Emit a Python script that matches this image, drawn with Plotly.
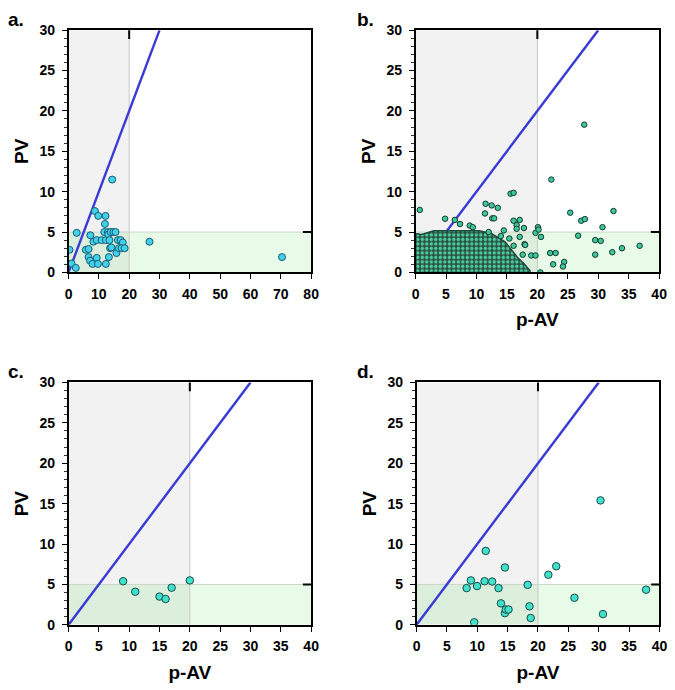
import plotly.graph_objects as go

# ---------------- data ----------------
a_pav = [0.3, 1.0, 2.4, 2.7, 5.7, 6.6, 6.6, 7.2, 7.1, 7.9, 8.2, 8.7, 9.3, 9.3, 9.8, 9.7,
         10.9, 12.2, 12.0, 11.8, 12.3, 12.3, 13.0, 13.1, 13.5, 13.3, 13.7, 14.1, 14.4,
         13.9, 14.8, 15.5, 15.8, 16.3, 16.6, 17.2, 17.9, 17.5, 18.5, 26.7, 70.4]
a_pv = [2.8, 1.1, 0.56, 4.9, 2.8, 2.9, 1.9, 4.6, 1.45, 1.05, 3.8, 7.6, 4.0, 1.8, 7.0, 1.05,
        4.0, 7.0, 6.0, 5.0, 4.0, 1.05, 5.0, 4.7, 4.0, 1.9, 3.0, 3.1, 11.5,
        5.0, 5.0, 5.0, 2.4, 4.0, 3.0, 4.0, 3.7, 3.0, 3.0, 3.8, 1.9]

# panel b: outline of the dense cloud
b_cloud_pav = [0.0, 0.0, 1.0, 2.0, 3.0, 10.5, 12.5, 14.7, 15.8, 16.8, 17.9, 18.8, 18.8, 0.0]
b_cloud_pv = [0.0, 4.8, 4.7, 4.9, 5.15, 5.15, 4.8, 3.8, 2.8, 1.8, 1.0, 0.2, 0.0, 0.0]
# panel b: individual points outside the dense cloud
b_pav = [0.7, 4.85, 6.45, 7.3, 8.9, 9.4, 11.5, 12.5, 11.4, 12.6, 12.9, 13.5, 14.5, 15.6,
         16.1, 16.1, 17.1, 16.6, 16.6, 17.8, 15.4, 16.1, 17.1, 17.9, 18.0, 17.6, 19.0, 19.7,
         19.7, 20.1, 20.2, 20.6, 20.5, 22.3, 22.1, 23.0, 22.6, 24.4, 24.2, 25.4, 26.7,
         27.2, 27.8, 27.7, 29.5, 29.5, 30.4, 30.7, 32.5, 32.3, 33.9, 36.8, 14.0, 12.0]
b_pv = [7.74, 6.65, 6.5, 6.0, 5.8, 5.6, 8.5, 8.3, 7.3, 6.7, 6.7, 8.0, 5.2, 9.75,
        9.85, 6.4, 6.5, 5.85, 5.4, 5.5, 4.2, 3.3, 4.4, 3.5, 3.4, 2.2, 2.1, 2.1,
        4.9, 5.6, 5.3, 4.4, 0.0, 11.5, 2.4, 2.4, 1.0, 1.3, 0.73, 7.4, 4.55,
        6.4, 6.6, 18.3, 2.2, 4.0, 3.9, 5.6, 7.6, 2.5, 3.0, 3.3, 4.5, 5.0]

c_pav = [9.0, 11.0, 15.0, 16.0, 17.0, 20.0]
c_pv = [5.4, 4.1, 3.5, 3.2, 4.6, 5.5]

d_pav = [8.25, 8.95, 9.5, 9.97, 11.2, 11.4, 12.45, 13.5, 13.9, 14.55, 14.55, 14.7, 15.15,
         18.3, 18.6, 18.8, 21.7, 23.0, 26.0, 30.3, 30.7, 37.8]
d_pv = [4.55, 5.5, 0.32, 4.8, 5.4, 9.15, 5.36, 4.55, 2.66, 7.1, 1.45, 1.9, 1.9,
        4.95, 2.3, 0.85, 6.2, 7.25, 3.35, 15.4, 1.33, 4.35]

PAV_CUT = 20
PV_CUT = 5
Y_MAX = 30
ref_line = [0, 30]
x_max = {"a": 80, "b": 40, "c": 40, "d": 40}
panel_labels = ["a.", "b.", "c.", "d."]
x_title = "p-AV"
y_title = "PV"

# ---------------- figure ----------------
W, H = 675, 690
FONT = "Arial, Liberation Sans, sans-serif"
fig = go.Figure()

panels = {
    "a": dict(xa="x", ya="y", xd=[65.7 / W, 312.7 / W], yd=[1 - 270.7 / H, 1 - 22.7 / H]),
    "b": dict(xa="x2", ya="y2", xd=[419.0 / W, 667.0 / W], yd=[1 - 270.7 / H, 1 - 22.7 / H]),
    "c": dict(xa="x3", ya="y3", xd=[65.7 / W, 312.7 / W], yd=[1 - 631.5 / H, 1 - 383.3 / H]),
    "d": dict(xa="x4", ya="y4", xd=[420.0 / W, 667.3 / W], yd=[1 - 631.5 / H, 1 - 383.3 / H]),
}

shapes = []
for key, p in panels.items():
    xr, yr = p["xa"], p["ya"]
    xm = x_max[key]
    shapes.append(dict(type="rect", xref=xr, yref=yr, x0=0, x1=PAV_CUT, y0=PV_CUT, y1=Y_MAX,
                       fillcolor="#f2f2f2", line_width=0, layer="below"))
    shapes.append(dict(type="rect", xref=xr, yref=yr, x0=PAV_CUT, x1=xm, y0=0, y1=PV_CUT,
                       fillcolor="#e8fbe8", line_width=0, layer="below"))
    shapes.append(dict(type="rect", xref=xr, yref=yr, x0=0, x1=PAV_CUT, y0=0, y1=PV_CUT,
                       fillcolor="#dcefdc", line_width=0, layer="below"))
    shapes.append(dict(type="line", xref=xr, yref=yr, x0=PAV_CUT, x1=PAV_CUT, y0=0, y1=Y_MAX,
                       line=dict(color="#c8c8c8", width=1), layer="below"))
    shapes.append(dict(type="line", xref=xr, yref=yr, x0=0, x1=xm, y0=PV_CUT, y1=PV_CUT,
                       line=dict(color="#c9d6c9", width=1), layer="below"))
    shapes.append(dict(type="line", xref=xr, yref=yr + " domain", x0=PAV_CUT, x1=PAV_CUT,
                       y0=1, y1=0.964, line=dict(color="black", width=2)))
    shapes.append(dict(type="line", xref=xr + " domain", yref=yr, x0=1, x1=0.966,
                       y0=PV_CUT, y1=PV_CUT, line=dict(color="black", width=2)))
    fig.add_trace(go.Scatter(x=ref_line, y=ref_line, mode="lines", xaxis=xr, yaxis=yr,
                             line=dict(color="#3a3ad6", width=2.4), showlegend=False,
                             hoverinfo="skip"))

# panel b dense cloud
fig.add_trace(go.Scatter(x=b_cloud_pav, y=b_cloud_pv, mode="lines", fill="toself",
                         xaxis="x2", yaxis="y2", line=dict(color="#1d4a3a", width=1.5),
                         fillcolor="#2f6a55",
                         fillpattern=dict(shape=".", bgcolor="#284f3f", fgcolor="#4cc99f",
                                          size=4.5, solidity=0.45, fillmode="replace"),
                         showlegend=False, hoverinfo="skip"))

fig.add_trace(go.Scatter(x=a_pav, y=a_pv, mode="markers", xaxis="x", yaxis="y",
                         marker=dict(size=7, color="#3fd2e8",
                                     line=dict(color="#1b5a76", width=1)), showlegend=False))
fig.add_trace(go.Scatter(x=b_pav, y=b_pv, mode="markers", xaxis="x2", yaxis="y2",
                         marker=dict(size=5.5, color="#3fc79c",
                                     line=dict(color="#103a2e", width=1)), showlegend=False))
fig.add_trace(go.Scatter(x=c_pav, y=c_pv, mode="markers", xaxis="x3", yaxis="y3",
                         marker=dict(size=7.5, color="#40e2cc",
                                     line=dict(color="#1b4a4a", width=1)), showlegend=False))
fig.add_trace(go.Scatter(x=d_pav, y=d_pv, mode="markers", xaxis="x4", yaxis="y4",
                         marker=dict(size=7.5, color="#40e2cc",
                                     line=dict(color="#1b4a4a", width=1)), showlegend=False))

tickfont = dict(family=FONT, size=14, color="black", weight="bold")
titlefont = dict(family=FONT, size=19, color="black", weight="bold")

layout = dict(width=W, height=H, margin=dict(l=0, r=0, t=0, b=0),
              paper_bgcolor="white", plot_bgcolor="white", shapes=shapes)

for i, (key, p) in enumerate(panels.items()):
    sfx = "" if i == 0 else str(i + 1)
    xax = dict(domain=p["xd"], anchor=p["ya"], range=[0, x_max[key]],
               dtick=10 if key == "a" else 5, tick0=0,
               showline=True, linecolor="black", linewidth=1.5, mirror=True,
               ticks="outside", ticklen=5, tickwidth=1.2, tickcolor="black",
               ticklabelstandoff=3, tickprefix="<b>", ticksuffix="</b>",
               showgrid=False, zeroline=False, tickfont=tickfont, fixedrange=True)
    if key != "a":
        xax["title"] = dict(text=x_title, font=titlefont, standoff=12)
    yax = dict(domain=p["yd"], anchor=p["xa"], range=[0, Y_MAX], dtick=5, tick0=0,
               showline=True, linecolor="black", linewidth=1.5, mirror=True,
               ticks="outside", ticklen=5, tickwidth=1.2, tickcolor="black",
               ticklabelstandoff=4, tickprefix="<b>", ticksuffix="</b>",
               minor=dict(dtick=1, ticks="outside", ticklen=3, tickwidth=1, tickcolor="#333"),
               showgrid=False, zeroline=False, tickfont=tickfont, fixedrange=True,
               title=dict(text=y_title, font=titlefont, standoff=6))
    layout["xaxis" + sfx] = xax
    layout["yaxis" + sfx] = yax

label_pos = [(2, 12), (357, 12), (2, 372), (357, 372)]
annotations = []
for txt, (px, py) in zip(panel_labels, label_pos):
    annotations.append(dict(text=txt, x=px / W, y=1 - py / H, xref="paper", yref="paper",
                            xanchor="left", yanchor="middle", showarrow=False,
                            font=dict(family=FONT, size=19, color="black", weight="bold")))
layout["annotations"] = annotations

fig.update_layout(**layout)
fig.write_html("out.html", config={"displayModeBar": False},
               post_script="document.body.style.margin='0';document.body.style.overflow='hidden';")
